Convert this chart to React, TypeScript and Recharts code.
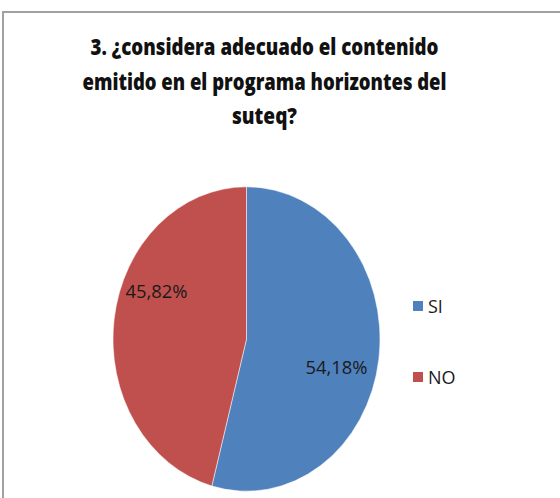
import { Legend, Pie, PieChart } from 'recharts';

const CATEGORIES = ['SI', 'NO'];
const PERCENTS = [54.18, 45.82];
const COLORS = ['#4F81BD', '#C0504D'];
const TITLE_LINES = [
  '3. ¿considera adecuado el contenido',
  'emitido en el programa horizontes del',
  'suteq?',
];

const chartData = CATEGORIES.map((name, i) => ({
  name,
  value: PERCENTS[i],
  fill: COLORS[i],
}));

// the original pie is drawn taller than wide
const Y_STRETCH = 1.14;
const RAD = Math.PI / 180;
const LABEL_FONT = '"Open Sans", "Liberation Sans", sans-serif';

function EllipseSector(props: any) {
  const { cx, cy, outerRadius, startAngle, endAngle, fill } = props;
  const rx = outerRadius;
  const ry = outerRadius * Y_STRETCH;
  const pt = (a: number) => [cx + rx * Math.cos(-a * RAD), cy + ry * Math.sin(-a * RAD)];
  const [x0, y0] = pt(startAngle);
  const [x1, y1] = pt(endAngle);
  const large = Math.abs(endAngle - startAngle) > 180 ? 1 : 0;
  const sweep = startAngle > endAngle ? 1 : 0;
  const d = `M${cx},${cy} L${x0},${y0} A${rx},${ry} 0 ${large} ${sweep} ${x1},${y1} Z`;
  return <path d={d} fill={fill} stroke="#ffffff" strokeOpacity={0.5} strokeWidth={1} />;
}

// excel's best-fit nudges the labels off the mid-angle a bit
const LABEL_NUDGE = [14, -34];

function renderLabel(props: any) {
  const { cx, cy, midAngle, outerRadius, percent, index } = props;
  const r = outerRadius * 0.68;
  const x = cx + r * Math.cos(-midAngle * RAD);
  const y = cy + r * Y_STRETCH * Math.sin(-midAngle * RAD) + LABEL_NUDGE[index];
  const text = `${(percent * 100).toFixed(2).replace('.', ',')}%`;
  return (
    <text
      x={x}
      y={y}
      textAnchor="middle"
      dominantBaseline="central"
      fill="#1a1a1a"
      fontSize={19}
      fontFamily={LABEL_FONT}
      textLength={62}
      lengthAdjust="spacingAndGlyphs"
    >
      {text}
    </text>
  );
}

function renderLegend(props: any) {
  const items = [...(props.payload ?? [])].sort(
    (a: any, b: any) => CATEGORIES.indexOf(a.value) - CATEGORIES.indexOf(b.value),
  );
  return (
    <div style={{ position: 'relative', width: 80, height: 100 }}>
      {items.map((entry: any, i: number) => (
        <div
          key={entry.value}
          style={{
            position: 'absolute',
            left: 0,
            top: i * 71,
            display: 'flex',
            alignItems: 'center',
            height: 16,
          }}
        >
          <span
            style={{ width: 10, height: 10, background: entry.color, display: 'inline-block' }}
          />
          <span
            style={{
              marginLeft: 5,
              fontSize: 18,
              fontFamily: LABEL_FONT,
              color: '#1a1a1a',
              lineHeight: '16px',
            }}
          >
            {entry.value}
          </span>
        </div>
      ))}
    </div>
  );
}

export default function App() {
  return (
    <div
      style={{
        position: 'absolute',
        left: 0,
        top: 0,
        width: 560,
        height: 498,
        background: '#ffffff',
        overflow: 'hidden',
      }}
    >
      <div
        style={{
          position: 'absolute',
          left: 2,
          top: 11,
          width: 570,
          height: 500,
          borderLeft: '2px solid #a0a0a0',
          borderTop: '2px solid #a0a0a0',
        }}
      />
      <svg
        width={560}
        height={140}
        style={{ position: 'absolute', left: 0, top: 0 }}
      >
        {TITLE_LINES.map((line, i) => (
          <text
            key={line}
            x={264.5}
            y={55 + i * 34.5}
            textAnchor="middle"
            fontSize={23}
            fontWeight={800}
            fontFamily={LABEL_FONT}
            fill="#111111"
            textLength={[348, 364, 65][i]}
            lengthAdjust="spacingAndGlyphs"
          >
            {line}
          </text>
        ))}
      </svg>
      <div style={{ position: 'absolute', left: 0, top: 0 }}>
        <PieChart width={560} height={498} margin={{ top: 0, right: 0, bottom: 0, left: 0 }}>
          <Pie
            data={chartData}
            dataKey="value"
            nameKey="name"
            cx={246.5}
            cy={339}
            outerRadius={133.5}
            startAngle={90}
            endAngle={-270}
            shape={EllipseSector}
            label={renderLabel}
            labelLine={false}
            isAnimationActive={false}
          />
          <Legend
            layout="vertical"
            align="right"
            verticalAlign="middle"
            content={renderLegend}
            wrapperStyle={{ left: 413, top: 298, right: 'auto', width: 80 }}
          />
        </PieChart>
      </div>
    </div>
  );
}
